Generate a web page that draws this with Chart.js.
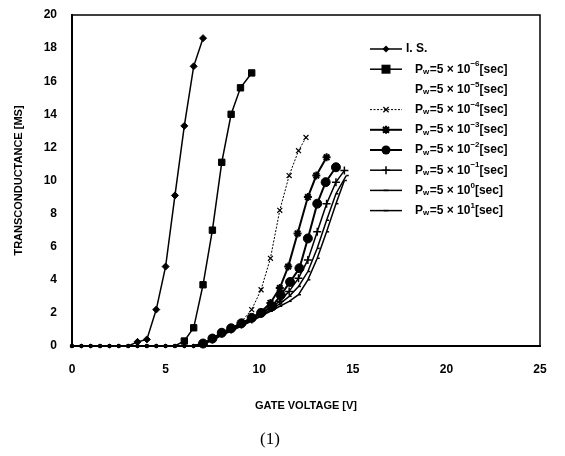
<!DOCTYPE html>
<html>
<head>
<meta charset="utf-8">
<script src="https://cdn.jsdelivr.net/npm/chart.js@4/dist/chart.umd.min.js"></script>
<style>
  html, body { margin: 0; padding: 0; background: #fff; }
  #wrap { width: 565px; height: 456px; }
</style>
</head>
<body>
<div id="wrap"><canvas id="gm"></canvas></div>
<script>
// values (gate voltage [V] -> transconductance [mS])
const pwExp = ['-6', '-5', '-4', '-3', '-2', '-1', '0', '1'];

const isX = [0, 0.5, 1, 1.5, 2, 2.5, 3, 3.5, 4, 4.5, 5, 5.5, 6, 6.5, 7];
const isY = [0, 0, 0, 0, 0, 0, 0, 0.25, 0.4, 2.2, 4.8, 9.1, 13.3, 16.9, 18.6];

const pw6X = [0, 0.5, 1, 1.5, 2, 2.5, 3, 3.5, 4, 4.5, 5, 5.5, 6, 6.5, 7, 7.5, 8, 8.5, 9, 9.6];
const pw6Y = [0, 0, 0, 0, 0, 0, 0, 0, 0, 0, 0, 0, 0.3, 1.1, 3.7, 7.0, 11.1, 14.0, 15.6, 16.5];

const pw5X = [];
const pw5Y = [];

// the slow-pulse curves all sit on zero up to 6.5 V
const flatX = [0, 0.5, 1, 1.5, 2, 2.5, 3, 3.5, 4, 4.5, 5, 5.5, 6, 6.5];
const flatY = [0, 0, 0, 0, 0, 0, 0, 0, 0, 0, 0, 0, 0, 0];

const pw4X = [7, 7.5, 8, 8.5, 9, 9.6, 10.1, 10.6, 11.1, 11.6, 12.1, 12.5];
const pw4Y = [0.15, 0.45, 0.8, 1.1, 1.4, 2.2, 3.4, 5.3, 8.2, 10.3, 11.8, 12.6];

const pw3X = [7, 7.5, 8, 8.5, 9.05, 9.6, 10.1, 10.6, 11.1, 11.55, 12.05, 12.6, 13.05, 13.6];
const pw3Y = [0.15, 0.45, 0.8, 1.07, 1.37, 1.7, 2.05, 2.6, 3.5, 4.8, 6.8, 9.0, 10.3, 11.4];

const pw2X = [7, 7.5, 8, 8.5, 9.05, 9.6, 10.1, 10.7, 11.15, 11.65, 12.15, 12.6, 13.1, 13.55, 14.1];
const pw2Y = [0.15, 0.45, 0.8, 1.07, 1.37, 1.7, 2.0, 2.4, 3.07, 3.87, 4.7, 6.5, 8.6, 9.9, 10.8];

const pw1X = [7, 7.5, 8, 8.5, 9.05, 9.6, 10.1, 10.6, 11.1, 11.6, 12.1, 12.6, 13.1, 13.6, 14.1, 14.55];
const pw1Y = [0.15, 0.4, 0.75, 1.0, 1.3, 1.6, 1.95, 2.3, 2.7, 3.3, 4.1, 5.2, 6.9, 8.6, 9.9, 10.6];

const pw0X = [7, 7.5, 8, 8.5, 9.05, 9.6, 10.1, 10.6, 11.1, 11.6, 12.1, 12.6, 13.1, 13.6, 14.1, 14.65];
const pw0Y = [0.12, 0.38, 0.7, 0.95, 1.25, 1.55, 1.85, 2.2, 2.55, 3.0, 3.6, 4.5, 5.9, 7.6, 9.2, 10.3];

const pwp1X = [7, 7.5, 8, 8.5, 9.05, 9.6, 10.1, 10.6, 11.1, 11.6, 12.1, 12.6, 13.1, 13.6, 14.1, 14.55];
const pwp1Y = [0.1, 0.35, 0.65, 0.9, 1.2, 1.5, 1.8, 2.1, 2.4, 2.7, 3.1, 4.0, 5.3, 6.9, 8.6, 10.0];

const xTicks = [0, 5, 10, 15, 20, 25];
const yTicks = [0, 2, 4, 6, 8, 10, 12, 14, 16, 18, 20];

function pts(xs, ys) {
  return xs.map((x, i) => ({ x: x, y: ys[i] }));
}

const FONT = 'Liberation Sans, Arial, sans-serif';

// markers on the zero line are drawn small, as in the scan
function radius(r) {
  return c => (c.raw && c.raw.y === 0 ? Math.min(r, 1.8) : r);
}

function ds(label, exp, data, style) {
  const r = style.pointRadius || 0;
  return Object.assign({
    label: label,
    exp: exp,
    data: data,
    borderColor: '#000',
    backgroundColor: '#000',
    pointBorderColor: '#000',
    pointBackgroundColor: '#000',
    borderWidth: 1.5,
    pointBorderWidth: 1,
    tension: 0,
    clip: false
  }, style, { pointRadius: radius(r), legendRadius: r });
}

function pwLabel(e) { return 'Pw=5×10^' + e + '[sec]'; }

const datasets = [
  ds('I. S.', null, pts(isX, isY), { pointStyle: 'rectRot', pointRadius: 3.5 }),
  ds(pwLabel(pwExp[0]), pwExp[0], pts(pw6X, pw6Y), { pointStyle: 'rect', pointRadius: 4.5 }),
  ds(pwLabel(pwExp[1]), pwExp[1], pts(pw5X, pw5Y), { pointStyle: false, pointRadius: 0, showLine: false, borderWidth: 0 }),
  ds(pwLabel(pwExp[2]), pwExp[2], pts(flatX.concat(pw4X), flatY.concat(pw4Y)), { pointStyle: 'crossRot', pointRadius: 3.5, borderWidth: 1, borderDash: [2, 1.5], pointBorderWidth: 1.2 }),
  ds(pwLabel(pwExp[3]), pwExp[3], pts(flatX.concat(pw3X), flatY.concat(pw3Y)), { pointStyle: 'star', pointRadius: 4, borderWidth: 2, pointBorderWidth: 2 }),
  ds(pwLabel(pwExp[4]), pwExp[4], pts(flatX.concat(pw2X), flatY.concat(pw2Y)), { pointStyle: 'circle', pointRadius: 4.5, borderWidth: 2 }),
  ds(pwLabel(pwExp[5]), pwExp[5], pts(flatX.concat(pw1X), flatY.concat(pw1Y)), { pointStyle: 'cross', pointRadius: 4, pointBorderWidth: 1.5 }),
  ds(pwLabel(pwExp[6]), pwExp[6], pts(flatX.concat(pw0X), flatY.concat(pw0Y)), { pointStyle: 'dash', pointRadius: 2.5, pointBorderWidth: 1.5 }),
  ds(pwLabel(pwExp[7]), pwExp[7], pts(flatX.concat(pwp1X), flatY.concat(pwp1Y)), { pointStyle: 'dash', pointRadius: 2.5, pointBorderWidth: 1.5 })
];

// small marker drawing for the legend
function marker(ctx, style, r, x, y, lw) {
  ctx.save();
  ctx.lineWidth = lw;
  ctx.beginPath();
  if (style === 'rectRot') {
    ctx.moveTo(x, y - r); ctx.lineTo(x + r, y); ctx.lineTo(x, y + r); ctx.lineTo(x - r, y); ctx.closePath(); ctx.fill();
  } else if (style === 'rect') {
    ctx.rect(x - r, y - r, 2 * r, 2 * r); ctx.fill();
  } else if (style === 'circle') {
    ctx.arc(x, y, r, 0, Math.PI * 2); ctx.fill();
  } else if (style === 'crossRot' || style === 'star') {
    const d = r * 0.75;
    ctx.moveTo(x - d, y - d); ctx.lineTo(x + d, y + d); ctx.moveTo(x + d, y - d); ctx.lineTo(x - d, y + d);
    if (style === 'star') { ctx.moveTo(x, y - r); ctx.lineTo(x, y + r); ctx.moveTo(x - r, y); ctx.lineTo(x + r, y); }
    ctx.stroke();
  } else if (style === 'cross') {
    ctx.moveTo(x, y - r); ctx.lineTo(x, y + r); ctx.moveTo(x - r, y); ctx.lineTo(x + r, y); ctx.stroke();
  } else if (style === 'dash') {
    ctx.moveTo(x - r, y); ctx.lineTo(x + r, y); ctx.stroke();
  }
  ctx.restore();
}

// writes "Pw=5 × 10^e[sec]" with subscript w and raised exponent
function pwText(ctx, x, y, exp) {
  const big = 'bold 12px ' + FONT, small = 'bold 8px ' + FONT;
  const parts = [['P', big, 0], ['w', small, 2.5], ['=5 × 10', big, 0], [exp.replace('-', '−'), small, -5], ['[sec]', big, 0]];
  parts.forEach(p => {
    ctx.font = p[1];
    ctx.fillText(p[0], x, y + p[2]);
    x += ctx.measureText(p[0]).width + (p[0] === 'w' ? 0.5 : 0);
  });
}

const frameAndLegend = {
  id: 'frameAndLegend',
  afterDraw(chart) {
    const ctx = chart.ctx;
    const a = chart.chartArea;
    ctx.save();
    ctx.strokeStyle = '#000';
    ctx.lineWidth = 1.5;
    ctx.strokeRect(a.left, a.top, a.right - a.left, a.bottom - a.top);

    // legend inside the plot, upper right
    ctx.fillStyle = '#000';
    ctx.textBaseline = 'middle';
    chart.data.datasets.forEach((d, i) => {
      const y = 49 + i * 20.2;
      const x0 = 370, x1 = 402;
      if (d.showLine !== false) {
        ctx.save();
        ctx.lineWidth = d.borderWidth;
        ctx.setLineDash(d.borderDash || []);
        ctx.beginPath(); ctx.moveTo(x0, y); ctx.lineTo(x1, y); ctx.stroke();
        ctx.restore();
        marker(ctx, d.pointStyle, d.legendRadius, (x0 + x1) / 2, y, d.pointBorderWidth);
      }
      if (d.exp === null) {
        ctx.font = 'bold 12px ' + FONT;
        ctx.fillText(d.label, 406, y);
      } else {
        pwText(ctx, 415, y, d.exp);
      }
    });
    ctx.restore();
  }
};

new Chart(document.getElementById('gm'), {
  type: 'line',
  data: { datasets: datasets },
  options: {
    responsive: true,
    maintainAspectRatio: false,
    animation: false,
    layout: { padding: { left: 0, top: 15, right: 25, bottom: 0 } },
    plugins: {
      legend: { display: false },
      tooltip: { enabled: false },
      title: {
        display: true,
        position: 'bottom',
        text: '(1)',
        color: '#000',
        font: { family: 'Liberation Serif, serif', size: 17, weight: 'normal' },
        padding: { top: 10, bottom: 6 }
      }
    },
    scales: {
      x: {
        type: 'linear',
        min: 0,
        max: 25,
        afterBuildTicks: s => { s.ticks = xTicks.map(v => ({ value: v })); },
        afterFit: s => { s.height = 73.6; },
        grid: { display: false },
        border: { display: true, color: '#000', width: 2 },
        ticks: { color: '#000', padding: 8, font: { family: FONT, size: 12, weight: 'bold' } },
        title: {
          display: true,
          text: 'GATE VOLTAGE [V]',
          color: '#000',
          font: { family: FONT, size: 11, weight: 'bold' },
          padding: { top: 0, bottom: 7 }
        }
      },
      y: {
        min: 0,
        max: 20,
        afterBuildTicks: s => { s.ticks = yTicks.map(v => ({ value: v })); },
        afterFit: s => { s.width = 72; },
        grid: { display: false },
        border: { display: true, color: '#000', width: 2 },
        ticks: { color: '#000', padding: 7, font: { family: FONT, size: 12, weight: 'bold' } },
        title: {
          display: true,
          text: 'TRANSCONDUCTANCE [MS]',
          color: '#000',
          font: { family: FONT, size: 11, weight: 'bold' },
          padding: { top: 12, bottom: 0 }
        }
      }
    }
  },
  plugins: [frameAndLegend]
});
</script>
</body>
</html>
